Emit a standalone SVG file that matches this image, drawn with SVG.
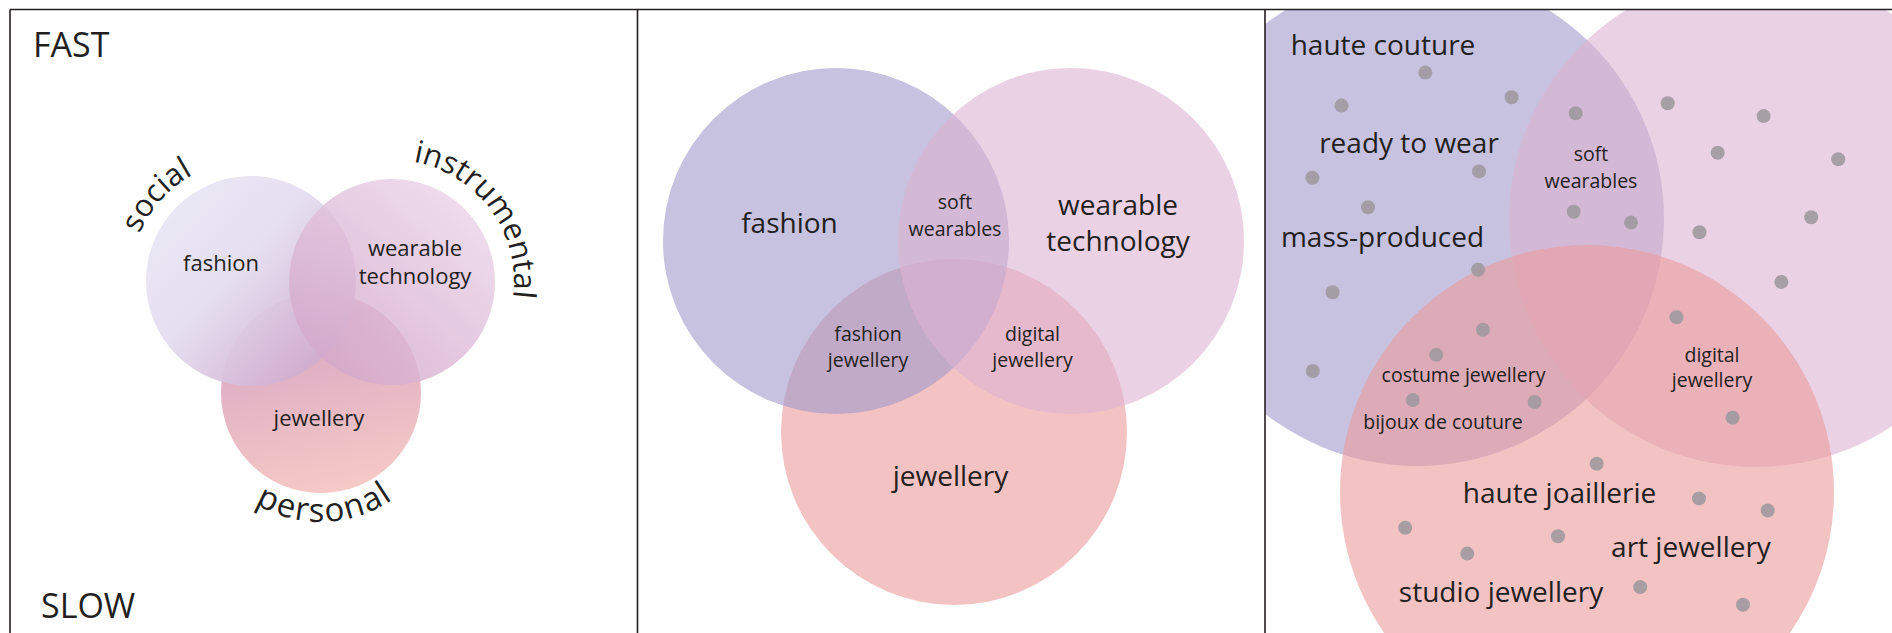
<svg xmlns="http://www.w3.org/2000/svg" width="1892" height="633" viewBox="0 0 1892 633">
<style>
.t{font-family:"Open Sans","Liberation Sans",sans-serif;fill:#231f20}
.m{text-anchor:middle}
.ax{font-size:34px}
.p1{font-size:22px}
.arc{font-size:31px}
.lg{font-size:28px}
.sm{font-size:19.5px}
.frame{stroke:#231f20;stroke-width:1.6;fill:none}
.dot{fill:#9e999f;fill-opacity:0.9}
.cf{fill:#a099ca;fill-opacity:0.6}
.cw{fill:#deb2d2;fill-opacity:0.6}
.cj{fill:#eb9b9d;fill-opacity:0.6}
</style>
<defs>
<linearGradient id="g1f" gradientUnits="userSpaceOnUse" x1="170" y1="200" x2="345" y2="365">
<stop offset="0" stop-color="#e9e7f4"/><stop offset="0.4" stop-color="#e4ddf0"/><stop offset="1" stop-color="#cda4c9"/>
</linearGradient>
<linearGradient id="g1w" gradientUnits="userSpaceOnUse" x1="470" y1="190" x2="310" y2="370">
<stop offset="0" stop-color="#ecd6ea"/><stop offset="1" stop-color="#d2a6c9"/>
</linearGradient>
<linearGradient id="g1j" gradientUnits="userSpaceOnUse" x1="300" y1="300" x2="340" y2="495">
<stop offset="0" stop-color="#d5a4c3"/><stop offset="1" stop-color="#f6cac6"/>
</linearGradient>
<clipPath id="clip3"><rect x="1265" y="9.5" width="627" height="624"/></clipPath>
<path id="arcSocial" d="M139.6,233.7 A121,121 0 0 1 311.5,176.2"/>
<path id="arcInstr" d="M413.2,161.9 A122,122 0 0 1 497.7,343"/>
<path id="arcPers" d="M255,504 A128,128 0 0 0 428,463"/>
</defs>
<rect width="1892" height="633" fill="#ffffff"/>

<!-- Panel 1 -->
<g id="p1-jewellery"><circle cx="321" cy="393" r="100" fill="url(#g1j)"/></g>
<g id="p1-fashion"><circle cx="251" cy="281" r="105" fill="url(#g1f)" fill-opacity="0.95"/></g>
<g id="p1-wearable"><circle cx="392" cy="282" r="103" fill="url(#g1w)" fill-opacity="0.82"/></g>
<g id="p1-labels">
<text class="t ax" x="33" y="57">FAST</text>
<text class="t ax" x="41" y="618">SLOW</text>
<text class="t p1 m" x="221" y="271">fashion</text>
<text class="t p1 m" x="415" y="256">wearable</text>
<text class="t p1 m" x="415" y="284">technology</text>
<text class="t p1 m" x="319" y="426">jewellery</text>
</g>
<g id="p1-social"><text class="t arc"><textPath href="#arcSocial">social</textPath></text></g>
<g id="p1-instrumental"><text class="t arc"><textPath href="#arcInstr">instrumental</textPath></text></g>
<g id="p1-personal"><text class="t arc" style="font-size:33px;letter-spacing:1.5px"><textPath href="#arcPers">personal</textPath></text></g>

<!-- Panel 2 -->
<g id="p2-jewellery"><circle class="cj" cx="954" cy="432" r="173"/></g>
<g id="p2-fashion"><circle class="cf" cx="836" cy="241" r="173"/></g>
<g id="p2-wearable"><circle class="cw" cx="1071" cy="241" r="173"/></g>
<g id="p2-labels">
<text class="t lg m" x="789.5" y="233">fashion</text>
<text class="t lg m" x="1118" y="215">wearable</text>
<text class="t lg m" x="1118" y="251">technology</text>
<text class="t lg m" x="950.5" y="486">jewellery</text>
<text class="t sm m" x="955" y="209">soft</text>
<text class="t sm m" x="955" y="236">wearables</text>
<text class="t sm m" x="868" y="341">fashion</text>
<text class="t sm m" x="868" y="366.5">jewellery</text>
<text class="t sm m" x="1032.5" y="341">digital</text>
<text class="t sm m" x="1032.5" y="366.5">jewellery</text>
</g>

<!-- Panel 3 -->
<g clip-path="url(#clip3)">
<g id="p3-fashion"><circle class="cf" cx="1417" cy="219" r="247"/></g>
<g id="p3-wearable"><circle class="cw" cx="1756" cy="220" r="247"/></g>
<g id="p3-jewellery"><circle class="cj" cx="1587" cy="492" r="247"/></g>
</g>
<g id="p3-dots">
<circle class="dot" cx="1425.3" cy="72.6" r="7"/>
<circle class="dot" cx="1341.5" cy="105.6" r="7"/>
<circle class="dot" cx="1511.6" cy="97.2" r="7"/>
<circle class="dot" cx="1575.7" cy="113.3" r="7"/>
<circle class="dot" cx="1667.7" cy="103.2" r="7"/>
<circle class="dot" cx="1763.6" cy="116.1" r="7"/>
<circle class="dot" cx="1717.7" cy="152.8" r="7"/>
<circle class="dot" cx="1838.2" cy="159.3" r="7"/>
<circle class="dot" cx="1312.4" cy="177.8" r="7"/>
<circle class="dot" cx="1479" cy="171.4" r="7"/>
<circle class="dot" cx="1368" cy="207.3" r="7"/>
<circle class="dot" cx="1573.7" cy="211.7" r="7"/>
<circle class="dot" cx="1631" cy="222.6" r="7"/>
<circle class="dot" cx="1699.5" cy="232.3" r="7"/>
<circle class="dot" cx="1811.2" cy="217.3" r="7"/>
<circle class="dot" cx="1478.1" cy="269.8" r="7"/>
<circle class="dot" cx="1332.6" cy="292.3" r="7"/>
<circle class="dot" cx="1781.4" cy="281.9" r="7"/>
<circle class="dot" cx="1676.5" cy="317.3" r="7"/>
<circle class="dot" cx="1483" cy="329.8" r="7"/>
<circle class="dot" cx="1436.2" cy="354.8" r="7"/>
<circle class="dot" cx="1312.8" cy="371" r="7"/>
<circle class="dot" cx="1412.8" cy="400" r="7"/>
<circle class="dot" cx="1534.6" cy="402" r="7"/>
<circle class="dot" cx="1732.6" cy="417.7" r="7"/>
<circle class="dot" cx="1596.7" cy="463.7" r="7"/>
<circle class="dot" cx="1699" cy="498.4" r="7"/>
<circle class="dot" cx="1767.7" cy="510.5" r="7"/>
<circle class="dot" cx="1405.2" cy="527.8" r="7"/>
<circle class="dot" cx="1558" cy="536.3" r="7"/>
<circle class="dot" cx="1467.3" cy="553.6" r="7"/>
<circle class="dot" cx="1640.2" cy="587.1" r="7"/>
<circle class="dot" cx="1743" cy="604.8" r="7"/>
</g>
<g id="p3-labels">
<text class="t lg m" x="1383" y="55">haute couture</text>
<text class="t lg m" x="1409" y="152.5">ready to wear</text>
<text class="t lg m" x="1382.5" y="247">mass-produced</text>
<text class="t sm m" x="1591" y="161">soft</text>
<text class="t sm m" x="1591" y="187.5">wearables</text>
<text class="t sm m" x="1463.5" y="382">costume jewellery</text>
<text class="t sm m" x="1443" y="428.5">bijoux de couture</text>
<text class="t sm m" x="1712" y="361.5">digital</text>
<text class="t sm m" x="1712" y="387">jewellery</text>
<text class="t lg m" x="1559.5" y="503">haute joaillerie</text>
<text class="t lg m" x="1691" y="556.5">art jewellery</text>
<text class="t lg m" x="1501" y="602">studio jewellery</text>
</g>

<g id="connectors"></g>

<g id="frame">
<line class="frame" x1="10" y1="9.5" x2="1892" y2="9.5"/>
<line class="frame" x1="10" y1="9.5" x2="10" y2="633"/>
<line class="frame" x1="637.5" y1="9.5" x2="637.5" y2="633"/>
<line class="frame" x1="1265" y1="9.5" x2="1265" y2="633"/>
</g>
</svg>
